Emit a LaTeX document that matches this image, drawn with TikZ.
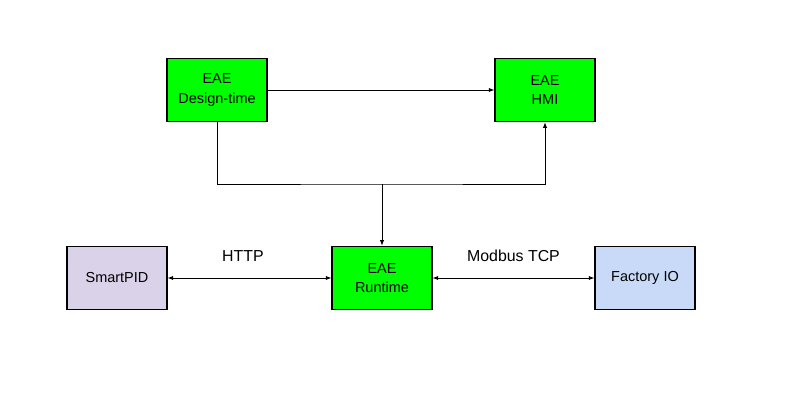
\documentclass[tikz,border=0pt]{standalone}
\usepackage{fontspec}
\setmainfont{Liberation Sans}
\usetikzlibrary{arrows.meta}
\begin{document}
\begin{tikzpicture}[x=0.025cm,y=-0.025cm]
\tikzset{
box node/.style={draw,line width=0.8pt,minimum width=2.5cm,minimum height=1.58cm,align=center,font=\fontsize{10.3}{13.8}\selectfont},
green node/.style={box node,fill=green},
purple node/.style={box node,fill={rgb,255:red,217;green,210;blue,233}},
blue node/.style={box node,fill={rgb,255:red,201;green,218;blue,248}},
link/.style={line width=0.6pt,-{Latex[length=4pt,width=3pt]}},
both link/.style={line width=0.6pt,{Latex[length=4pt,width=3pt]}-{Latex[length=4pt,width=3pt]}},
link label/.style={above=8pt,font=\fontsize{11.3}{13}\selectfont}
}
\useasboundingbox (0,0) rectangle (811,400);

\node(design)[green node] at (217,90) {EAE\\Design-time};
\node(hmi)[green node] at (545,90) {EAE\\HMI};
\node(runtime)[green node] at (382,278) {EAE\\Runtime};
\node(smartpid)[purple node] at (117,278) {SmartPID};
\node(factory)[blue node] at (645,278) {Factory IO};

\coordinate(split) at (382,184);
\draw[link] (design) -- (hmi);
\draw[link] (design.south) |- (split) -| (hmi.south);
\draw[link] (split) -- (runtime);
\draw[both link] (smartpid) -- node[link label,pos=0.46]{HTTP} (runtime);
\draw[both link] (runtime) -- node[link label]{Modbus TCP} (factory);
\end{tikzpicture}
\end{document}
